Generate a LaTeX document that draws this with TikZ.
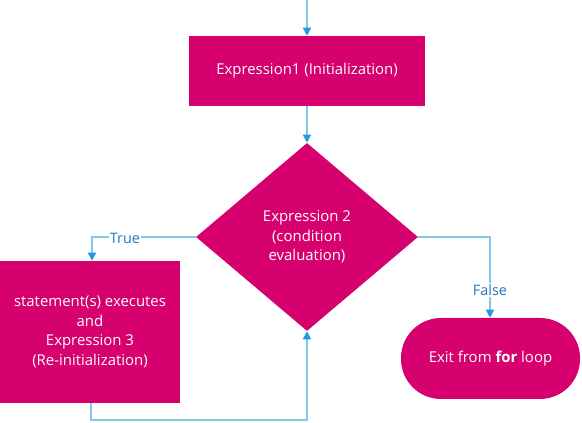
\documentclass[tikz,border=0pt]{standalone}
\usepackage{fontspec}
\setmainfont{Open Sans}
\usetikzlibrary{shapes.geometric,arrows.meta}
\definecolor{mag}{RGB}{214,0,110}
\definecolor{lineblue}{RGB}{130,200,235}
\definecolor{tipblue}{RGB}{30,155,220}
\definecolor{lblblue}{RGB}{40,120,180}
\begin{document}
\begin{tikzpicture}[x=0.75pt,y=-0.75pt,
  every node/.style={font=\fontsize{11.2}{14.6}\selectfont},
  boxstyle/.style={fill=mag,draw=none,text=white,align=center,inner sep=0pt},
  conn/.style={draw=lineblue,line width=1.1pt,-{Triangle[length=6pt,width=6pt,color=tipblue]}},
  lbl/.style={text=lblblue,fill=white,inner sep=1pt,font=\fontsize{10.8}{12}\selectfont}]
\useasboundingbox (0,0) rectangle (582,423);
\node[boxstyle,minimum width=236*0.75pt,minimum height=70*0.75pt] (e1) at (307,71) {Expression1 (Initialization)};
\node[boxstyle,diamond,minimum width=222*0.75pt,minimum height=188*0.75pt,aspect=1.18] (d) at (307,237) {Expression 2\\(condition\\evaluation)};
\node[boxstyle,minimum width=180*0.75pt,minimum height=142*0.75pt] (s) at (90,332) {statement(s) executes\\and\\Expression 3\\(Re-initialization)};
\node[boxstyle,rounded corners=40*0.75pt,minimum width=179*0.75pt,minimum height=81*0.75pt] (x) at (490.5,358.5) {Exit from \textbf{for} loop};
\coordinate (top) at (307,0);
\coordinate (loopL) at (91,420);
\coordinate (loopR) at (307,420);
\coordinate (tl) at (92,237);
\coordinate (fr) at (490,237);
\draw[conn] (top) -- (e1.north);
\draw[conn] (e1.south) -- (d.north);
\draw[conn] (d.west) -- (tl) -- (s.north -| tl);
\node[lbl] (tlab) at (125,238) {True};
\draw[conn] (d.east) -- (fr) -- (x.north -| fr);
\node[lbl] (flab) at (490,290) {False};
\draw[conn] (s.south -| loopL) -- (loopL) -- (loopR) -- (d.south);
\end{tikzpicture}
\end{document}
